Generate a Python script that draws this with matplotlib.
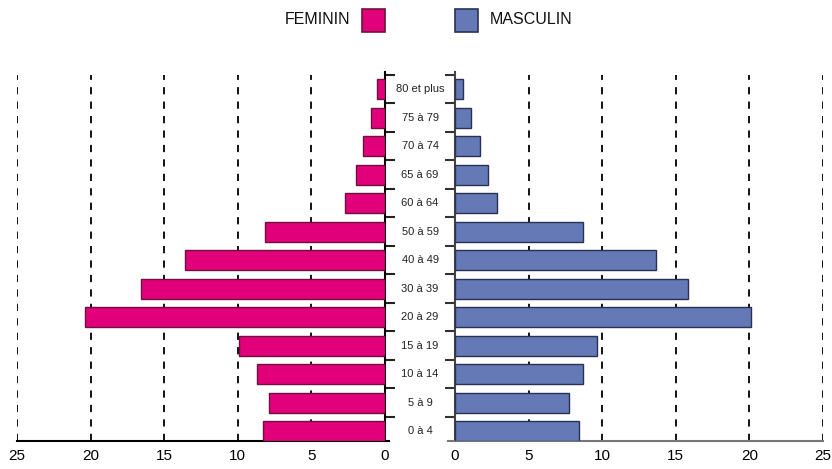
import matplotlib
matplotlib.use("Agg")
import matplotlib.pyplot as plt
import matplotlib.transforms as mtransforms
from matplotlib.patches import Rectangle

plt.rcParams['font.family'] = ['Liberation Sans Narrow', 'Liberation Sans', 'DejaVu Sans']

age_groups = ["0 à 4", "5 à 9", "10 à 14", "15 à 19", "20 à 29", "30 à 39", "40 à 49",
              "50 à 59", "60 à 64", "65 à 69", "70 à 74", "75 à 79", "80 et plus"]
feminin = [8.3, 7.9, 8.7, 9.9, 20.4, 16.6, 13.6, 8.15, 2.7, 1.95, 1.5, 0.95, 0.55]
masculin = [8.4, 7.75, 8.7, 9.65, 20.1, 15.8, 13.65, 8.7, 2.85, 2.25, 1.7, 1.1, 0.55]
xticks = [0, 5, 10, 15, 20, 25]

pink = "#E2007A"
pink_edge = "#6e1040"
blue = "#6479B6"
blue_edge = "#2b3152"

W, H = 832, 469
fig = plt.figure(figsize=(W / 100, H / 100), dpi=100)

bottom = 1 - 441 / H
height = (441 - 72) / H
axL = fig.add_axes([17 / W, bottom, 368 / W, height])
axR = fig.add_axes([455 / W, bottom, 368 / W, height])

y = list(range(len(age_groups)))
ylo, yhi = -0.35, 12.6

for ax, vals, col, ec in ((axL, feminin, pink, pink_edge), (axR, masculin, blue, blue_edge)):
    ax.set_xlim(0, 25)
    ax.set_ylim(ylo, yhi)
    for xv in xticks[1:]:
        ax.vlines(xv, ylo, 12.5, colors="black", linestyles=(0, (4, 4)), linewidth=1.3, zorder=1)
    ax.barh(y, vals, height=0.7, color=col, edgecolor=ec, linewidth=1.0, zorder=3)
    ax.set_xticks(xticks)
    ax.set_xticklabels([str(v) for v in xticks], fontsize=11)
    ax.tick_params(axis='x', length=0, pad=6)
    ax.set_yticks([i + 0.5 for i in range(-1, 13)][1:] if False else [i - 0.5 for i in range(1, 14)])
    ax.set_yticklabels([])
    ax.spines['top'].set_visible(False)

axL.invert_xaxis()
axL.spines['left'].set_visible(False)
axL.yaxis.tick_right()
axL.tick_params(axis='y', direction='out', length=7, width=1.5, color="#222222")
axL.spines['right'].set_linewidth(1.5)
axL.spines['bottom'].set_linewidth(1.5)
axL.spines['bottom'].set_bounds(25, -0.3)

axR.spines['right'].set_visible(False)
axR.yaxis.tick_left()
axR.tick_params(axis='y', direction='out', length=7, width=1.5, color="#333333")
axR.spines['left'].set_linewidth(1.5)
axR.spines['left'].set_color("#444444")
axR.spines['bottom'].set_linewidth(1.5)
axR.spines['bottom'].set_color("#777777")
axR.spines['bottom'].set_bounds(-0.5, 25)

# category labels in the central gap
trans = mtransforms.blended_transform_factory(fig.transFigure, axL.transData)
for i, lab in enumerate(age_groups):
    fig.text(420 / W, i, lab, transform=trans, ha='center', va='center', fontsize=8, color="#222222")

# legend
fig.text(350 / W, 1 - 20 / H, "FEMININ", ha='right', va='center', fontsize=11.5, color="#111111")
fig.add_artist(Rectangle((362 / W, 1 - 32 / H), 23 / W, 23 / H, transform=fig.transFigure,
                         facecolor=pink, edgecolor=pink_edge, linewidth=1.2))
fig.add_artist(Rectangle((455 / W, 1 - 32 / H), 23 / W, 23 / H, transform=fig.transFigure,
                         facecolor=blue, edgecolor=blue_edge, linewidth=1.2))
fig.text(490 / W, 1 - 19 / H, "MASCULIN", ha='left', va='center', fontsize=11.5, color="#111111")

fig.savefig("out.png", dpi=100)
